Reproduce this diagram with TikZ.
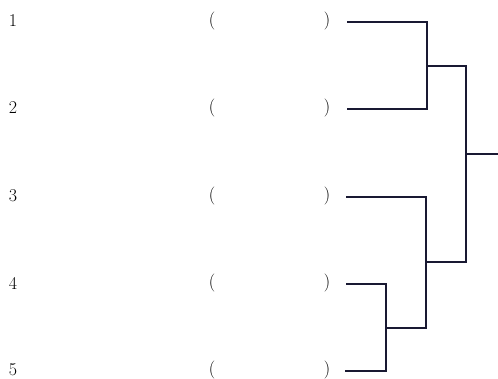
\documentclass[tikz,border=0pt]{standalone}
\begin{document}
\begin{tikzpicture}[x=1pt,y=-1pt,
  lbl/.style={inner sep=0pt,font=\fontsize{18}{21}\selectfont},
  br/.style={line width=2pt,line cap=rect,line join=miter,color={rgb,255:red,25;green,25;blue,50}}]
\useasboundingbox (0,0) rectangle (498,379);
\foreach \i/\y in {1/21,2/108,3/196,4/283,5/370}{
  \node[lbl] (n\i) at (13,\y) {\i};
  \node[lbl] (o\i) at (212,\y) {(};
  \node[lbl] (c\i) at (327,\y) {)};
}
% leaves
\coordinate (a1) at (348,22);
\coordinate (a2) at (348,109);
\coordinate (a3) at (347,197);
\coordinate (a4) at (347,284);
\coordinate (a5) at (346,371);
% joints
\coordinate (j12) at (427,66);
\coordinate (j45) at (386,328);
\coordinate (j345) at (426,262);
\coordinate (jall) at (466,154);
\coordinate (out) at (498,154);
\draw[br] (a1) -| (j12) |- (a2);
\draw[br] (a4) -| (j45) |- (a5);
\draw[br] (a3) -| (j345) |- (j45);
\draw[br] (j12) -| (jall) |- (j345);
\draw[br] (jall) -- (out);
\end{tikzpicture}
\end{document}
